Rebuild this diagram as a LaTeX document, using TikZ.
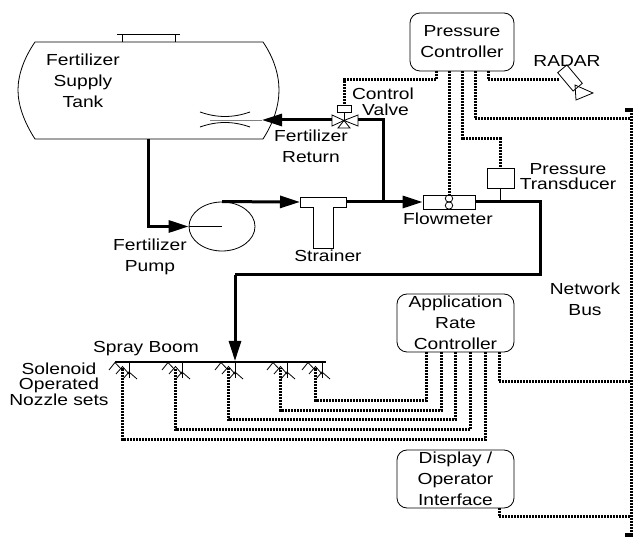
\documentclass[tikz,border=0pt]{standalone}
\usepackage{fontspec}
\setmainfont[FakeStretch=1.2]{Liberation Sans}
\usetikzlibrary{arrows.meta,shapes.geometric}

\tikzset{
    thinline/.style={line width=0.8pt},
    pipeline/.style={line width=3pt},
    pipearrow/.style={pipeline, -{Triangle[length=20pt,width=12pt]}},
    busline/.style={line width=3pt, dash pattern=on 2pt off 1pt},
    ctrlbox/.style={draw, thinline, rounded corners=10pt, inner sep=0pt, align=center},
    label/.style={align=center, inner sep=0pt},
    tightlabel/.style={label, font=\fontsize{16}{15.5}\selectfont}
}
\newcommand{\nozzleset}[1]{
    \draw[thinline] (#1,362) -- (#1,378);
    \draw[thinline] (#1-20,370) -- (#1-14,362.5) -- (#1-7,370);
    \draw[thinline] (#1-13,374) -- (#1-6.5,366.5) -- (#1,374);
    \draw[thinline] (#1-6,379) -- (#1,372) -- (#1+8,379);
}

\begin{document}
\begin{tikzpicture}[x=1pt, y=-1pt, font=\fontsize{16}{21}\selectfont]
    \useasboundingbox (0,0) rectangle (633,537);

    % Tanque
    \draw[thinline] (35,42) -- (263,42) .. controls (274,58) and (279,75) .. (279,90)
        .. controls (279,105) and (274,122) .. (263,139) -- (35,139)
        .. controls (24,122) and (18,105) .. (18,90)
        .. controls (18,75) and (24,58) .. (35,42) -- cycle;
    \draw[thinline] (122,42) -- (122,34);
    \draw[thinline] (175,42) -- (175,34);
    \draw[thinline] (117,34) -- (180,34);
    \node[label] (tank) at (83,81) {Fertilizer\\Supply\\Tank};
    \coordinate (tankout) at (148,139);

    % Retorno dentro del tanque
    \draw[thinline] (200,112) .. controls (217,118) and (233,118) .. (250,112);
    \draw[thinline] (200,127) .. controls (217,121) and (233,121) .. (250,127);
    \coordinate (venturi) at (262,120);
    \draw[thinline, gray] (210,120) -- (venturi);

    % Bomba
    \node[draw, thinline, ellipse, minimum width=66pt, minimum height=49pt, inner sep=0pt] (pump) at (222,226.5) {};
    \coordinate (pumpmid) at (222,226.5);
    \draw[thinline] (pump.west) -- (pumpmid);
    \node[label] (pumplabel) at (150,257) {Fertilizer\\Pump};

    % Filtro
    \draw[thinline] (300,197) -- (346,197) -- (346,207) -- (333,207) -- (333,248) -- (313,248) -- (313,207) -- (300,207) -- cycle;
    \coordinate (strainin) at (300,202);
    \coordinate (strainout) at (346,202);
    \node[label] (strainer) at (328,256) {Strainer};

    % Caudalimetro
    \node[draw, thinline, minimum width=52pt, minimum height=14pt, inner sep=0pt] (flowmeter) at (449,202) {};
    \draw[thinline] (449,198.5) circle (3.7);
    \draw[thinline] (449,205.5) circle (3.7);
    \node[label] (flowlabel) at (448,219) {Flowmeter};

    % Transductor
    \node[draw, thinline, minimum width=27pt, minimum height=20pt, inner sep=0pt] (transducer) at (500.5,178) {};
    \coordinate (transtap) at (transducer.south |- flowmeter.east);
    \draw[thinline] (transducer.south) -- (transtap);
    \node[tightlabel] (translabel) at (568,176.5) {Pressure\\Transducer};

    % Valvula de control
    \coordinate (valve) at (344,120.5);
    \node[draw, thinline, minimum width=14pt, minimum height=7pt, inner sep=0pt] (actuator) at (344,108.5) {};
    \draw[thinline] (actuator.south) -- (valve);
    \draw[thinline] (valve) -- (332,115) -- (332,126) -- cycle;
    \draw[thinline] (valve) -- (358,115) -- (358,126) -- cycle;
    \draw[thinline] (valve) -- (338,128) -- (350,128) -- cycle;
    \node[tightlabel] (valvelabel) at (383,102) {Control\\\hspace*{5pt}Valve};
    \node[label] (returnlabel) at (311,146) {Fertilizer\\Return};

    % Tuberia
    \coordinate (returnup) at (383,120);
    \coordinate (returntee) at (383,202);
    \coordinate (boomcorner) at (540,202);
    \coordinate (boomdrop) at (235,275);
    \coordinate (boomtap) at (235,361);
    \draw[pipearrow] (tankout) |- (pump.west);
    \draw[pipearrow] (pump.north) -- (strainin);
    \draw[pipearrow] (strainout) -- (flowmeter.west);
    \draw[pipeline] (returntee) -- (returnup) -- (358,120);
    \draw[pipearrow] (332,120) -- (venturi);
    \draw[pipeline] (flowmeter.east) -- (boomcorner) |- (boomdrop);
    \draw[pipearrow] (boomdrop) -- (boomtap);

    % Barra de pulverizacion
    \coordinate (boomleft) at (115,362);
    \coordinate (boomright) at (326,362);
    \draw[line width=1.2pt] (boomleft) -- (boomright);
    \node[label] (boomlabel) at (146,349) {Spray Boom};
    \node[tightlabel] (nozzlelabel) at (59,384) {Solenoid\\Operated\\Nozzle sets};
    \foreach \k/\sx in {1/129, 2/182, 3/235, 4/287, 5/322} {
        \nozzleset{\sx}
        \coordinate (nz\k) at (\sx-6.5,368);
    }

    % Controladores
    \node[ctrlbox, minimum width=104pt, minimum height=58pt] (prescon) at (462,42) {Pressure\\Controller};
    \node[ctrlbox, minimum width=117pt, minimum height=58pt] (ratecon) at (455.5,323) {Application\\Rate\\Controller};
    \node[ctrlbox, minimum width=117pt, minimum height=58pt] (display) at (455.5,479) {Display /\\Operator\\Interface};

    % Radar
    \node[draw, thinline, minimum width=24pt, minimum height=12pt, inner sep=0pt, rotate=-50] (radar) at (570,78) {};
    \coordinate (radarin) at (560,80);
    \draw[thinline] (575,85) -- (593,93) -- (576,100) -- cycle;
    \node[label] (radarlabel) at (567,61) {RADAR};

    % Bus de red
    \coordinate (bustop) at (631,110);
    \coordinate (busend) at (631,535);
    \draw[busline] (bustop) -- (busend);
    \draw[line width=3.5pt] (625,110) -- (633,110);
    \draw[line width=3.5pt] (625,535) -- (633,535);
    \node[label] (buslabel) at (585,299.5) {Network\\Bus};

    % Lineas de control
    \draw[busline] ([xshift=-26pt]prescon.south) |- (actuator.north |- 0,80) -- (actuator.north);
    \draw[busline] ([xshift=-13pt]prescon.south) -- (flowmeter.north);
    \draw[busline] (prescon.south) |- (transducer.north |- 0,139) -- (transducer.north);
    \draw[busline] ([xshift=13pt]prescon.south) |- (bustop |- 0,119);
    \draw[busline] ([xshift=26pt]prescon.south) |- (radarin);
    \foreach \k/\dx/\ly in {1/29.5/440, 2/15/430, 3/0/420, 4/-14.5/411, 5/-29.5/401} {
        \draw[busline] ([xshift=\dx pt]ratecon.south) |- (nz\k |- 0,\ly) -- (nz\k);
    }
    \draw[busline] ([xshift=43.5pt]ratecon.south) |- (bustop |- 0,382);
    \draw[busline] ([xshift=43.5pt]display.south) |- (bustop |- 0,517);
\end{tikzpicture}
\end{document}
